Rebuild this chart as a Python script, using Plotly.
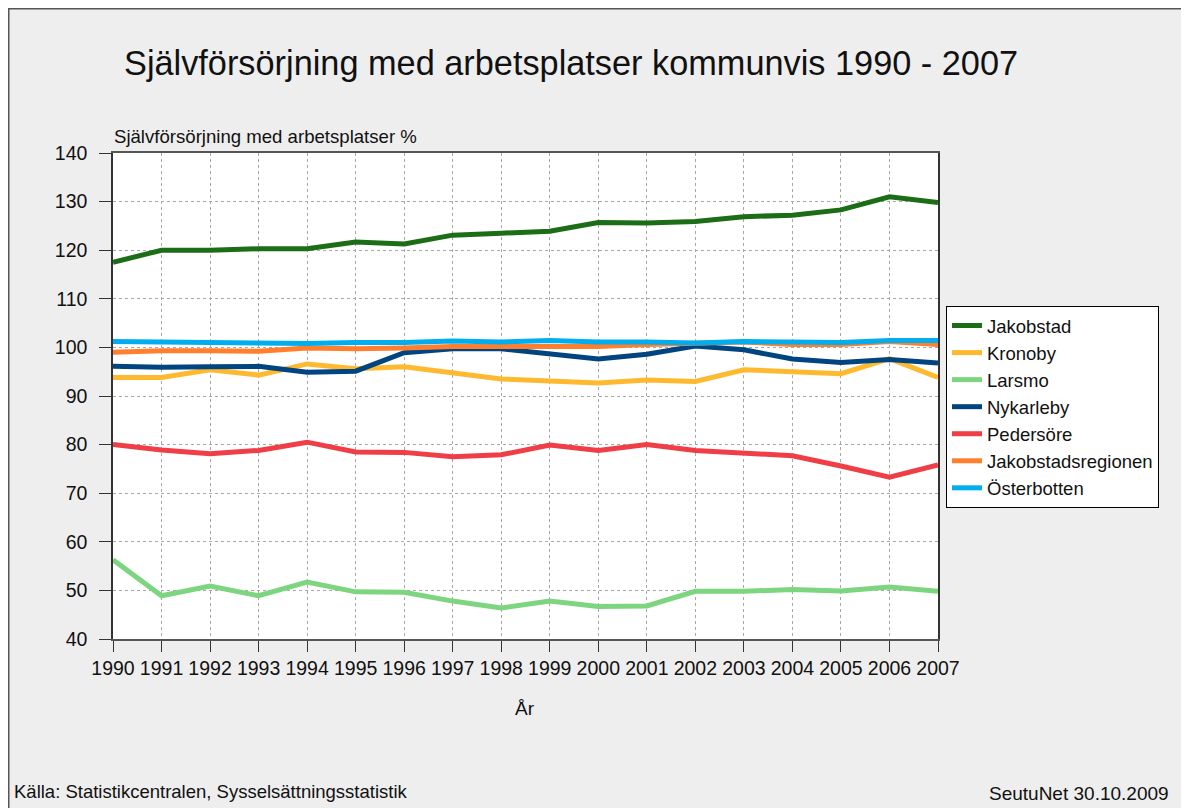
import plotly.graph_objects as go

years = list(range(1990, 2008))

jakobstad = [117.5, 120.0, 120.0, 120.3, 120.3, 121.7, 121.3, 123.1, 123.5, 123.9,
             125.7, 125.6, 125.9, 126.9, 127.2, 128.3, 131.0, 129.8]
kronoby = [93.8, 93.8, 95.4, 94.3, 96.6, 95.6, 96.0, 94.7, 93.5, 93.1,
           92.7, 93.3, 93.0, 95.4, 95.1, 94.6, 97.7, 93.8]
larsmo = [56.3, 48.9, 50.9, 48.9, 51.7, 49.7, 49.6, 47.8, 46.4, 47.8,
          46.7, 46.8, 49.8, 49.8, 50.2, 49.9, 50.7, 49.8]
nykarleby = [96.1, 95.9, 96.0, 96.1, 94.9, 95.1, 98.9, 99.7, 99.7, 98.6,
             97.6, 98.6, 100.3, 99.5, 97.6, 96.9, 97.5, 96.8]
pedersore = [80.0, 78.9, 78.1, 78.8, 80.5, 78.5, 78.4, 77.5, 77.9, 79.9,
             78.8, 80.0, 78.8, 78.3, 77.7, 75.6, 73.3, 75.8]
jakobstadsregionen = [99.0, 99.3, 99.3, 99.2, 99.9, 99.7, 99.9, 100.2, 100.2, 100.2,
                      100.2, 100.6, 100.8, 101.1, 100.6, 100.6, 101.2, 100.6]
osterbotten = [101.2, 101.1, 101.1, 101.0, 100.8, 101.0, 101.0, 101.3, 101.1, 101.4,
               101.1, 101.1, 100.9, 101.2, 101.1, 101.0, 101.4, 101.4]

series_names = ["Jakobstad", "Kronoby", "Larsmo", "Nykarleby", "Pedersöre",
                "Jakobstadsregionen", "Österbotten"]
series_values = [jakobstad, kronoby, larsmo, nykarleby, pedersore,
                 jakobstadsregionen, osterbotten]
series_colors = ["#1b6e16", "#ffb92e", "#7dd67f", "#00457f", "#ef3e45",
                 "#ff7f2e", "#00aeef"]

FONT = "Liberation Sans, Arial, sans-serif"
# page has an 8px body margin; figure coordinates = page coordinates - 8
OFF = 8
W, H = 1189 - OFF, 808 - OFF
L, R, T, B = 113 - OFF, 938 - OFF, 153 - OFF, 639 - OFF


def px2x(px):
    return (px - OFF - L) / (R - L)


def py2y(py):
    return (B - (py - OFF)) / (B - T)


fig = go.Figure()
for name, vals, col in zip(series_names, series_values, series_colors):
    fig.add_trace(go.Scatter(x=years, y=vals, name=name, mode="lines",
                             line=dict(color=col, width=5)))

fig.update_layout(
    width=W, height=H,
    margin=dict(l=L, r=W - R, t=T, b=H - B),
    paper_bgcolor="#eeeeee",
    plot_bgcolor="#ffffff",
    font=dict(family=FONT, size=18, color="#111111"),
    showlegend=True,
    legend=dict(x=px2x(946), y=py2y(306), xanchor="left", yanchor="top",
                bgcolor="#ffffff", bordercolor="#000000", borderwidth=1,
                font=dict(size=18.5, family=FONT, color="#111111"),
                itemwidth=30, tracegroupgap=0,
                entrywidth=186, entrywidthmode="pixels"),
    xaxis=dict(range=[1990, 2007], tickmode="array", tickvals=years,
               ticktext=[str(y) for y in years],
               showgrid=True, gridcolor="#a8a8a8", griddash="dot", gridwidth=1,
               showline=True, linecolor="#555555", linewidth=1.5, mirror=True,
               ticks="outside", ticklen=11, tickcolor="#333333",
               tickfont=dict(size=19.5, family=FONT, color="#111111"),
               zeroline=False),
    yaxis=dict(range=[40, 140], dtick=10, tick0=40,
               showgrid=True, gridcolor="#a8a8a8", griddash="dot", gridwidth=1,
               showline=True, linecolor="#333333", linewidth=1.5, mirror=True,
               ticks="outside", ticklen=12, tickcolor="#333333",
               ticklabelstandoff=8,
               tickfont=dict(size=19.5, family=FONT, color="#111111"),
               zeroline=False),
)

annotations = [
    dict(text="Självförsörjning med arbetsplatser kommunvis 1990 - 2007",
         x=px2x(571), y=py2y(63), xanchor="center", yanchor="middle",
         font=dict(size=34.3, family=FONT, color="#111111")),
    dict(text="Självförsörjning med arbetsplatser %",
         x=px2x(112), y=py2y(137), xanchor="left", yanchor="middle",
         font=dict(size=18.6, family=FONT, color="#111111")),
    dict(text="År", x=px2x(525), y=py2y(708), xanchor="center", yanchor="middle",
         font=dict(size=19, family=FONT, color="#111111")),
    dict(text="Källa: Statistikcentralen, Sysselsättningsstatistik",
         x=px2x(12), y=py2y(791), xanchor="left", yanchor="middle",
         font=dict(size=18.5, family=FONT, color="#111111")),
    dict(text="SeutuNet 30.10.2009",
         x=px2x(1171), y=py2y(793), xanchor="right", yanchor="middle",
         font=dict(size=19, family=FONT, color="#111111")),
]
for a in annotations:
    a.update(xref="paper", yref="paper", showarrow=False)
fig.update_layout(annotations=annotations)

fig.update_layout(shapes=[
    dict(type="line", xref="paper", yref="paper",
         x0=px2x(OFF), x1=px2x(1189 + 5), y0=py2y(OFF + 0.75), y1=py2y(OFF + 0.75),
         line=dict(color="#555555", width=1.5)),
    dict(type="line", xref="paper", yref="paper",
         x0=px2x(OFF + 0.75), x1=px2x(OFF + 0.75), y0=py2y(OFF), y1=py2y(808 + 5),
         line=dict(color="#555555", width=1.5)),
])

fig.write_html("out.html",
               post_script="document.body.style.overflow='hidden';")
